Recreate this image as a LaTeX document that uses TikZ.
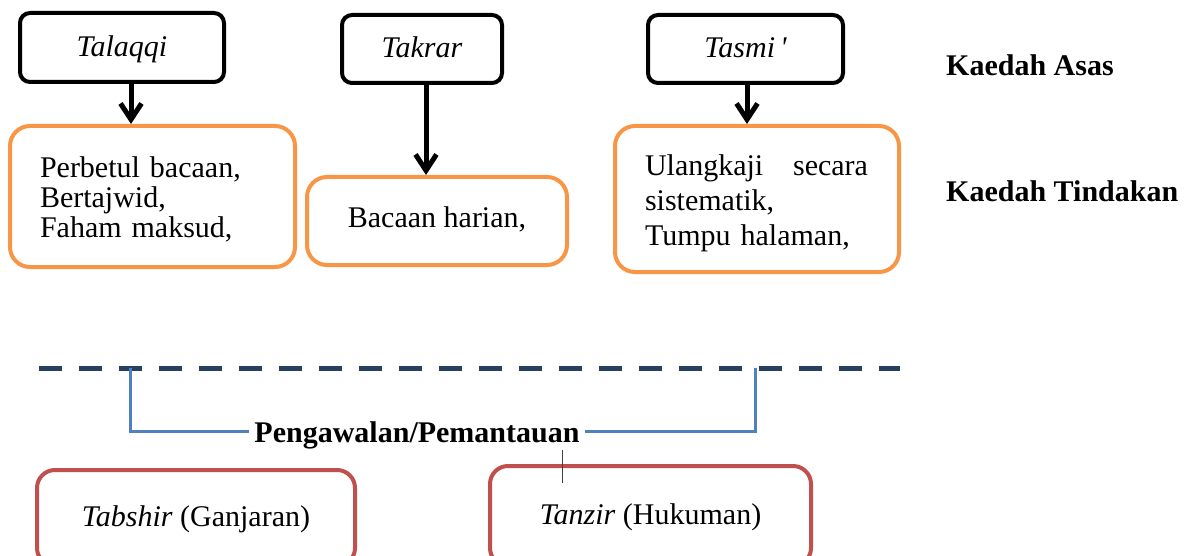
\documentclass[tikz,border=0pt]{standalone}
\usepackage{fontspec}
\setmainfont{Liberation Serif}
\usetikzlibrary{arrows.meta}
\definecolor{actorange}{HTML}{F79646}
\definecolor{ctrlred}{HTML}{C0504D}
\definecolor{brblue}{HTML}{4F81BD}
\definecolor{dashnavy}{HTML}{263F61}
\definecolor{thingray}{HTML}{404040}
\begin{document}
\begin{tikzpicture}[x=1pt,y=-1pt,
  basebox/.style={draw=black, line width=4pt, rounded corners=10pt, inner sep=0pt,
    text height=21pt, text depth=3pt,
    font=\fontsize{30}{30}\selectfont\itshape},
  actbox/.style={draw=actorange, line width=4pt, rounded corners=20pt, inner ysep=0pt},
  ctrlbox/.style={draw=ctrlred, line width=4pt, rounded corners=18pt, inner sep=0pt,
    text height=21pt, text depth=4pt,
    font=\fontsize{30}{30}\selectfont},
  downarrow/.style={line width=5pt, -{Straight Barb[length=16pt,width=21pt]}},
  sidelabel/.style={anchor=base west, inner sep=0pt, font=\fontsize{30}{30}\selectfont\bfseries},
  divider/.style={draw=dashnavy, line width=5pt, dash pattern=on 23pt off 17pt},
  bracketline/.style={draw=brblue, line width=3pt},
  tickline/.style={draw=thingray, line width=1pt}
]
\useasboundingbox (0,0) rectangle (1191,556);
\clip (0,0) rectangle (1191,556);

% basic methods
\node[basebox, minimum width=204pt, minimum height=69pt] (talaqqi) at (122,47.5) {Talaqqi};
\node[basebox, minimum width=160pt, minimum height=68pt] (takrar) at (422,49) {Takrar};
\node[basebox, minimum width=195pt, minimum height=68pt] (tasmi) at (745.5,49) {Tasmi\,\textquotesingle};

% action methods
\node[actbox, text width=225pt, align=left, inner xsep=30pt, minimum height=141pt,
  font=\fontsize{30}{30}\selectfont] (perbetul) at (152.5,196.5)
  {\rule{0pt}{26pt}Perbetul bacaan,\\Bertajwid,\\Faham maksud,};
\node[actbox, minimum width=260pt, minimum height=88pt, inner xsep=0pt,
  text height=21pt, text depth=8pt,
  font=\fontsize{30}{30}\selectfont] (bacaan) at (437,221) {Bacaan harian,};
\node[actbox, text width=224pt, align=left, inner xsep=30pt, minimum height=146pt,
  font=\fontsize{30}{35}\selectfont] (ulang) at (757,199)
  {\rule{0pt}{29pt}\hbox to 223pt{Ulangkaji\hfill secara}\\sistematik,\\Tumpu halaman,};

% arrows
\draw[downarrow] ([xshift=9pt]talaqqi.south) -- ([xshift=9pt]talaqqi.south |- perbetul.north);
\draw[downarrow] ([xshift=4pt]takrar.south) -- ([xshift=4pt]takrar.south |- bacaan.north);
\draw[downarrow] ([xshift=1.5pt]tasmi.south) -- ([xshift=1.5pt]tasmi.south |- ulang.north);

% side labels
\node[sidelabel] (asas) at (946,76) {Kaedah Asas};
\node[sidelabel] (tindakan) at (946,202) {Kaedah Tindakan};

% divider
\coordinate (dashL) at (39,368);
\coordinate (dashR) at (900,368);
\draw[divider] (dashL) -- (dashR);

% monitoring bracket
\node[font=\fontsize{30}{30}\selectfont\bfseries, inner xsep=5pt, inner ysep=2pt] (peng) at (417,435) {Pengawalan/Pemantauan};
\coordinate (bTL) at (130,368);
\coordinate (bTR) at (755,368);
\draw[bracketline] (bTL) |- ([yshift=4pt]peng.west);
\draw[bracketline] (bTR) |- ([yshift=4pt]peng.east);

% control boxes
\node[ctrlbox, minimum width=318pt, minimum height=96pt] (tabshir) at (196,518)
  {\textit{Tabshir} (Ganjaran)};
\node[ctrlbox, minimum width=321pt, minimum height=100pt] (tanzir) at (650.5,516)
  {\textit{Tanzir} (Hukuman)};

\coordinate (tickTop) at (562,450);
\coordinate (tickBot) at (562,483);
\draw[tickline] (tickTop) -- (tickBot);
\end{tikzpicture}
\end{document}
